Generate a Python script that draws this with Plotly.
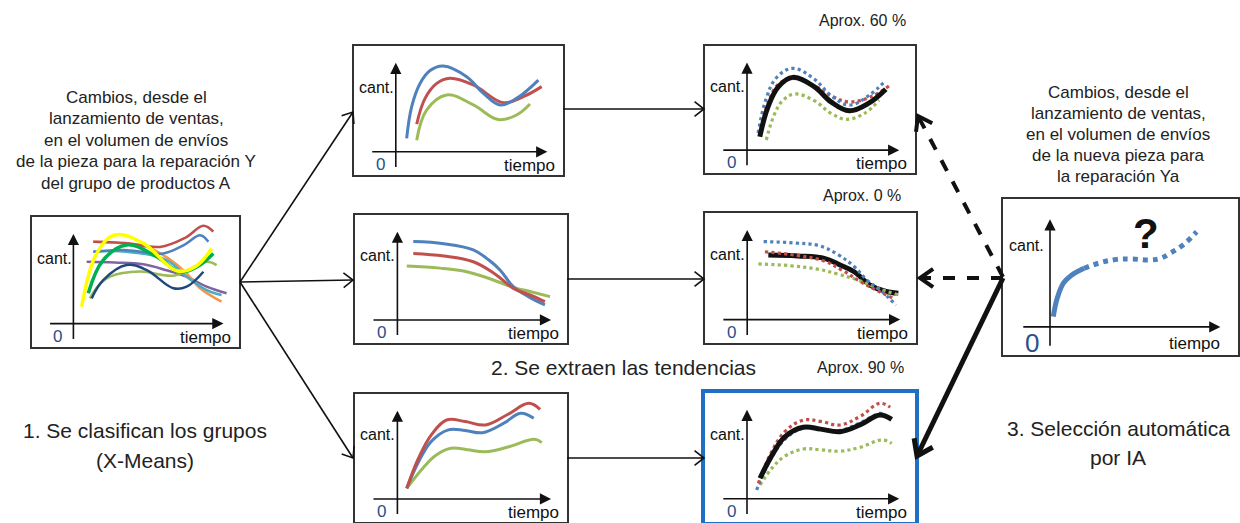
import math
import plotly.graph_objects as go

W, H = 1240, 523
FONT = "Liberation Sans, Arial, sans-serif"
BLUE, RED, GREEN = "#4f81bd", "#c0504d", "#9bbb59"
BLACK = "#111111"

# ---------------- data (panel units: 0-100 across each small chart) ----------------
# Panel A: all parts of product group A
a_red_x = [29.6, 45.0, 61.8, 74.0, 82.8, 87.6]
a_red_y = [81.0, 80.0, 77.0, 84.0, 93.3, 88.7]
a_orange_x = [29.6, 42.0, 55.4, 66.0, 74.7, 81.2, 91.6]
a_orange_y = [81.0, 80.0, 77.0, 68.0, 56.7, 45.2, 34.9]
a_blue_x = [29.6, 45.7, 63.4, 74.0, 81.2, 85.2]
a_blue_y = [73.3, 74.5, 72.0, 79.0, 86.0, 81.0]
a_cyan_x = [29.6, 45.7, 65.0, 74.7, 84.4, 91.6]
a_cyan_y = [73.3, 73.3, 66.9, 54.1, 43.8, 40.0]
a_purple_x = [26.4, 40.0, 53.8, 65.0, 74.7, 84.4, 94.0]
a_purple_y = [65.6, 65.0, 63.6, 59.0, 54.1, 46.4, 41.3]
a_lgreen_x = [28.0, 32.0, 37.7, 52.2, 69.0, 84.4, 89.2]
a_lgreen_y = [37.4, 47.0, 54.1, 58.0, 55.0, 65.6, 63.0]
a_dblue_x = [28.8, 34.4, 45.7, 55.4, 68.3, 74.7, 82.8]
a_dblue_y = [37.4, 51.5, 63.1, 59.2, 45.2, 46.4, 57.9]
a_green_x = [27.2, 34.4, 45.7, 60.2, 71.5, 80.0, 87.6]
a_green_y = [41.3, 66.9, 78.5, 69.5, 57.9, 62.0, 72.0]
a_yellow_x = [24.0, 31.3, 40.1, 53.8, 69.9, 79.0, 86.8]
a_yellow_y = [31.0, 72.1, 86.2, 79.7, 58.7, 62.0, 75.8]

# Cluster 1 (top)
c1_blue_x = [25.2, 27.6, 31.6, 36.4, 42.7, 53.9, 61.9, 69.9, 77.8, 88.2]
c1_blue_y = [28.4, 53.0, 71.0, 81.0, 84.5, 76.2, 63.3, 54.3, 59.4, 73.6]
c1_red_x = [30.0, 34.0, 39.6, 45.9, 57.1, 71.4, 81.0, 89.8]
c1_red_y = [39.5, 59.4, 71.0, 75.0, 69.8, 56.1, 60.7, 68.5]
c1_green_x = [30.0, 34.8, 44.3, 57.1, 69.0, 77.8, 84.2]
c1_green_y = [27.0, 50.4, 62.0, 54.3, 43.0, 46.5, 55.0]
# Cluster 1 trend comparison
t1_black_x = [26.1, 30.0, 35.0, 41.8, 52.0, 60.0, 68.7, 78.0, 86.1]
t1_black_y = [28.6, 52.0, 68.0, 75.3, 68.0, 56.0, 49.0, 55.0, 66.0]
t1_blue_x = [25.3, 29.0, 34.0, 41.8, 52.0, 60.0, 68.7, 78.0, 86.1]
t1_blue_y = [31.4, 58.0, 75.0, 82.4, 74.0, 61.0, 53.5, 61.0, 73.0]
t1_red_x = [26.0, 30.0, 35.0, 43.0, 53.0, 61.0, 68.7, 79.0, 88.5]
t1_red_y = [30.0, 55.0, 70.0, 74.4, 68.0, 60.0, 56.0, 60.0, 69.6]
t1_green_x = [29.2, 33.0, 37.0, 42.6, 52.0, 60.0, 67.2, 76.0, 82.9]
t1_green_y = [26.0, 46.0, 57.0, 62.2, 57.0, 47.0, 42.3, 47.0, 57.5]

# Cluster 2 (middle)
c2_blue_x = [27.5, 42.0, 55.8, 63.0, 68.4, 74.7, 82.0, 89.6]
c2_blue_y = [79.2, 77.5, 72.7, 65.0, 57.0, 44.0, 36.0, 29.7]
c2_red_x = [27.5, 42.0, 55.8, 66.0, 74.7, 82.5, 89.6]
c2_red_y = [70.0, 68.0, 63.5, 54.0, 42.7, 37.5, 32.3]
c2_green_x = [24.4, 40.0, 52.7, 64.0, 74.7, 83.0, 92.0]
c2_green_y = [60.2, 58.5, 55.7, 50.0, 43.5, 40.0, 36.2]
t2_black_x = [30.0, 44.0, 56.5, 64.0, 70.7, 78.2, 85.0, 91.6]
t2_black_y = [67.7, 67.0, 65.1, 60.0, 54.8, 44.6, 40.0, 38.2]
t2_blue_x = [27.8, 42.0, 54.0, 63.0, 70.7, 77.0, 83.0, 90.5]
t2_blue_y = [78.0, 77.0, 74.9, 68.0, 58.8, 48.0, 40.8, 29.2]
t2_red_x = [28.4, 43.0, 56.5, 65.0, 73.9, 82.0, 89.3]
t2_red_y = [70.2, 67.5, 63.0, 56.0, 47.0, 40.0, 34.4]
t2_green_x = [25.3, 40.0, 54.0, 63.0, 72.3, 82.0, 91.6]
t2_green_y = [60.8, 59.5, 56.6, 53.0, 48.5, 42.0, 37.0]

# Cluster 3 (bottom)
c3_red_x = [24.4, 30.0, 36.0, 43.2, 52.0, 61.6, 72.0, 82.0, 87.3]
c3_red_y = [26.3, 50.0, 68.0, 79.7, 78.5, 75.8, 84.0, 92.7, 88.0]
c3_blue_x = [24.4, 30.0, 36.0, 44.0, 52.0, 60.2, 70.0, 78.1, 84.3]
c3_blue_y = [26.3, 47.0, 63.0, 72.0, 71.5, 69.8, 77.0, 84.9, 81.0]
c3_green_x = [24.4, 32.0, 38.0, 45.3, 53.0, 61.6, 73.0, 84.6, 88.1]
c3_green_y = [26.3, 42.0, 52.0, 57.6, 56.5, 54.9, 59.0, 64.6, 62.0]
t3_black_x = [26.2, 32.0, 38.0, 46.8, 55.0, 64.3, 74.0, 83.3, 88.9]
t3_black_y = [33.9, 52.0, 66.0, 73.4, 72.0, 70.0, 75.5, 82.9, 79.5]
t3_red_x = [25.4, 31.0, 38.0, 46.8, 55.0, 64.3, 74.0, 83.3, 88.2]
t3_red_y = [30.0, 52.0, 70.0, 79.0, 78.0, 75.2, 82.0, 92.0, 88.9]
t3_blue_x = [24.6, 31.0, 38.0, 46.8, 55.0, 64.3, 74.0, 83.3, 86.0]
t3_blue_y = [24.8, 48.0, 64.0, 73.0, 72.0, 71.0, 77.0, 84.2, 83.0]
t3_green_x = [26.2, 32.0, 38.0, 46.8, 55.0, 64.3, 74.0, 84.4, 88.9]
t3_green_y = [28.7, 42.0, 51.0, 56.6, 56.0, 54.9, 58.0, 63.6, 61.0]

# New part Ya: observed and unknown future
n_obs_x = [21.4, 23.0, 25.7, 29.0, 34.5]
n_obs_y = [24.6, 36.0, 46.0, 51.0, 55.6]
n_fut_x = [34.5, 41.0, 48.4, 55.0, 62.6, 67.0, 71.1, 77.0, 82.4]
n_fut_y = [55.6, 59.0, 61.3, 61.5, 60.9, 62.0, 65.2, 71.0, 79.0]

pct_labels = ["Aprox. 60 %", "Aprox. 0 %", "Aprox. 90 %"]
title_left = ["Cambios, desde el", "lanzamiento de ventas,", "en el volumen de envíos",
              "de la pieza para la reparación Y", "del grupo de productos A"]
title_right = ["Cambios, desde el", "lanzamiento de ventas,", "en el volumen de envíos",
               "de la nueva pieza para", "la reparación Ya"]
step_labels = ["1. Se clasifican los grupos", "(X-Means)", "2. Se extraen las tendencias",
               "3. Selección automática", "por IA"]

# ---------------- layout geometry (pixels) ----------------
panels = {
    "A": (32, 217, 239, 347),
    "C1": (354, 46, 563, 175),
    "T1": (705, 46, 915, 173),
    "C2": (355, 215, 567, 343),
    "T2": (705, 213, 916, 343),
    "N": (1003, 199, 1238, 355),
    "C3": (355, 394, 567, 522),
    "T3": (705, 393, 915, 522),
}

def solid(c, w=2.5):
    return dict(color=c, width=w)

def dotted(c, w=3.2):
    return dict(color=c, width=w, dash="dot")

series = {
    "A": [(a_purple_x, a_purple_y, solid("#8064a2")), (a_orange_x, a_orange_y, solid("#f79646")),
          (a_cyan_x, a_cyan_y, solid("#4bacc6")), (a_red_x, a_red_y, solid(RED)),
          (a_blue_x, a_blue_y, solid(BLUE)), (a_lgreen_x, a_lgreen_y, solid(GREEN)),
          (a_dblue_x, a_dblue_y, solid("#1f497d")), (a_green_x, a_green_y, solid("#00b050", 3.5)),
          (a_yellow_x, a_yellow_y, solid("#ffff00", 3.5))],
    "C1": [(c1_green_x, c1_green_y, solid(GREEN, 3)), (c1_red_x, c1_red_y, solid(RED, 3)),
           (c1_blue_x, c1_blue_y, solid(BLUE, 3))],
    "T1": [(t1_green_x, t1_green_y, dotted(GREEN)), (t1_red_x, t1_red_y, dotted(RED)),
           (t1_blue_x, t1_blue_y, dotted(BLUE)), (t1_black_x, t1_black_y, solid(BLACK, 5))],
    "C2": [(c2_green_x, c2_green_y, solid(GREEN, 3)), (c2_blue_x, c2_blue_y, solid(BLUE, 3)),
           (c2_red_x, c2_red_y, solid(RED, 3))],
    "T2": [(t2_black_x, t2_black_y, solid(BLACK, 5)), (t2_green_x, t2_green_y, dotted(GREEN)),
           (t2_blue_x, t2_blue_y, dotted(BLUE)), (t2_red_x, t2_red_y, dotted(RED))],
    "N": [(n_obs_x, n_obs_y, solid(BLUE, 5)), (n_fut_x, n_fut_y, dict(color=BLUE, width=5, dash="dot"))],
    "C3": [(c3_green_x, c3_green_y, solid(GREEN, 3)), (c3_blue_x, c3_blue_y, solid(BLUE, 3)),
           (c3_red_x, c3_red_y, solid(RED, 3))],
    "T3": [(t3_green_x, t3_green_y, dotted(GREEN)), (t3_blue_x, t3_blue_y, dotted(BLUE)),
           (t3_red_x, t3_red_y, dotted(RED)), (t3_black_x, t3_black_y, solid(BLACK, 5))],
}

fig = go.Figure()
annotations = []
shapes = []

# overlay axis in pixel units (for connectors and free text)
layout = dict(
    width=W, height=H, margin=dict(l=0, r=0, t=0, b=0), autosize=False,
    paper_bgcolor="white", plot_bgcolor="rgba(0,0,0,0)", showlegend=False,
    xaxis=dict(domain=[0, 1], range=[0, W], visible=False, fixedrange=True),
    yaxis=dict(domain=[0, 1], range=[H, 0], visible=False, fixedrange=True),
    font=dict(family=FONT, color="#222"),
)
fig.add_trace(go.Scatter(x=[0], y=[0], mode="markers", marker=dict(opacity=0), hoverinfo="skip"))

for i, (name, (x0, y0, x1, y1)) in enumerate(panels.items()):
    n = i + 2
    border = dict(linecolor="#1f6fc5", linewidth=3.5) if name == "T3" else dict(linecolor="#333", linewidth=1.5)
    layout[f"xaxis{n}"] = dict(domain=[x0 / W, x1 / W], range=[0, 100], anchor=f"y{n}",
                               showgrid=False, zeroline=False, showticklabels=False, ticks="",
                               showline=True, mirror=True, fixedrange=True, **border)
    layout[f"yaxis{n}"] = dict(domain=[1 - y1 / H, 1 - y0 / H], range=[0, 100], anchor=f"x{n}",
                               showgrid=False, zeroline=False, showticklabels=False, ticks="",
                               showline=True, mirror=True, fixedrange=True, **border)
    for xs, ys, ln in series[name]:
        fig.add_trace(go.Scatter(x=xs, y=ys, mode="lines", line=dict(shape="spline", smoothing=1.1, **ln),
                                 xaxis=f"x{n}", yaxis=f"y{n}", hoverinfo="skip"))
    ref = dict(xref=f"x{n}", yref=f"y{n}")
    big = name == "N"
    # axis arrows
    annotations.append(dict(**ref, axref=f"x{n}", ayref=f"y{n}", x=20, y=87, ax=20, ay=5, text="",
                            showarrow=True, arrowhead=2, arrowsize=1.4, arrowwidth=1.6, arrowcolor="#111", standoff=0))
    annotations.append(dict(**ref, axref=f"x{n}", ayref=f"y{n}", x=92.5, y=18, ax=8, ay=18, text="",
                            showarrow=True, arrowhead=2, arrowsize=1.4, arrowwidth=1.6, arrowcolor="#111", standoff=0))
    annotations.append(dict(**ref, x=1.5, y=70 if big else 68, text="cant.", showarrow=False, xanchor="left",
                            yanchor="middle", font=dict(size=16, color="#111")))
    annotations.append(dict(**ref, x=12.5, y=8, text="0", showarrow=False, xanchor="center", yanchor="middle",
                            font=dict(size=26 if big else 17, color="#2b4f8a")))
    annotations.append(dict(**ref, x=93 if big else 97, y=7.5, text="tiempo", showarrow=False, xanchor="right",
                            yanchor="middle", font=dict(size=17, color="#111")))
    if big:
        annotations.append(dict(**ref, x=61, y=78, text="<b>?</b>", showarrow=False, xanchor="center",
                                yanchor="middle", font=dict(size=42, color="#111")))

# free text (pixel positions)
def txt(x, y, s, size, anchor="center"):
    annotations.append(dict(xref="x", yref="y", x=x, y=y, text=s, showarrow=False, xanchor=anchor,
                            yanchor="middle", font=dict(size=size, color="#222")))

for k, line in enumerate(title_left):
    txt(136, 97 + 21.5 * k, line, 17)
for k, line in enumerate(title_right):
    txt(1118, 92 + 21 * k, line, 17)
txt(145, 430, step_labels[0], 21)
txt(145, 460, step_labels[1], 21)
txt(623, 367, step_labels[2], 21)
txt(1118, 428, step_labels[3], 21)
txt(1118, 457, step_labels[4], 21)
txt(862, 20, pct_labels[0], 16)
txt(862, 195, pct_labels[1], 16)
txt(860, 367, pct_labels[2], 16)

# connectors
def arrow(x0, y0, x1, y1, width, dash=None, L=12, ang=38):
    line = dict(color="#111", width=width)
    if dash:
        line["dash"] = dash
    shapes.append(dict(type="line", xref="x", yref="y", x0=x0, y0=y0, x1=x1, y1=y1, line=line, layer="above"))
    d = math.hypot(x1 - x0, y1 - y0)
    bx, by = (x0 - x1) / d, (y0 - y1) / d
    a = math.radians(ang)
    p = []
    for s in (1, -1):
        rx = bx * math.cos(s * a) - by * math.sin(s * a)
        ry = bx * math.sin(s * a) + by * math.cos(s * a)
        p.append((x1 + L * rx, y1 + L * ry))
    path = f"M {p[0][0]},{p[0][1]} L {x1},{y1} L {p[1][0]},{p[1][1]}"
    shapes.append(dict(type="path", xref="x", yref="y", path=path,
                       line=dict(color="#111", width=width), layer="above"))

arrow(240, 282, 353, 112, 1.6)
arrow(240, 282, 353, 280, 1.6)
arrow(240, 282, 353, 458, 1.6)
arrow(563, 109, 704, 109, 1.6)
arrow(567, 279, 704, 279, 1.6)
arrow(567, 458, 704, 458, 1.6)
arrow(1003, 277, 918, 116, 4, dash="dash", L=16, ang=35)
arrow(1003, 278, 920, 278, 4, dash="dash", L=16, ang=35)
arrow(1003, 278, 917, 456, 5, L=18, ang=35)

layout["annotations"] = annotations
layout["shapes"] = shapes
fig.update_layout(**layout)
fig.write_html("out.html", config={"displayModeBar": False},
               post_script="document.body.style.margin='0px';")
